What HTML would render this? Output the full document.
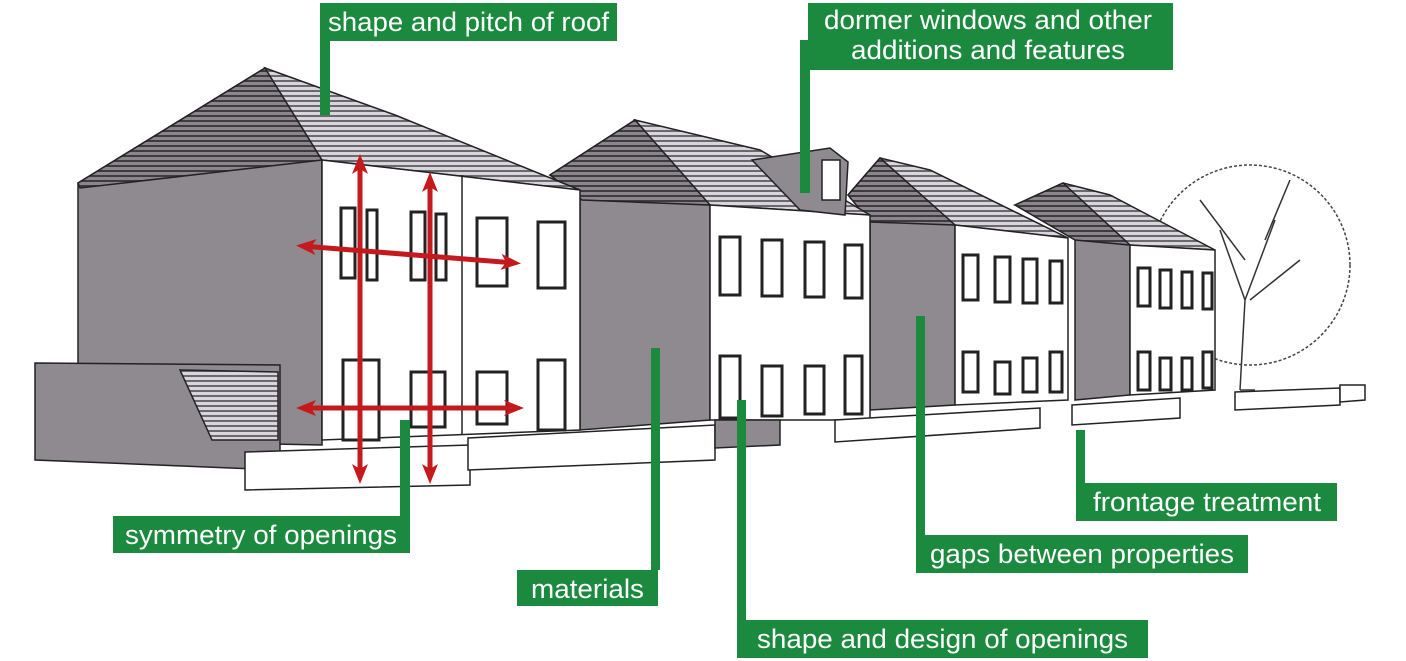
<!DOCTYPE html>
<html><head><meta charset="utf-8"><style>
html,body{margin:0;padding:0;background:#fff;}
svg{display:block}
text{font-family:"Liberation Sans",sans-serif;fill:#fff;font-size:26.5px}
</style></head><body>
<svg width="1406" height="661" viewBox="0 0 1406 661" xmlns="http://www.w3.org/2000/svg">
<defs>
<pattern id="hatch" width="8" height="5" patternUnits="userSpaceOnUse"><rect width="8" height="5" fill="#d8d6da"/><rect y="0" width="8" height="2" fill="#6c6870"/></pattern>
<pattern id="hatchd" width="8" height="5" patternUnits="userSpaceOnUse"><rect width="8" height="5" fill="#8a868c"/><rect y="0" width="8" height="2" fill="#3e3a40"/></pattern>
<marker id="ah" markerUnits="userSpaceOnUse" markerWidth="20" markerHeight="16" refX="14" refY="8" orient="auto-start-reverse"><path d="M0,0 L20,8 L0,16 L5,8 Z" fill="#c41a1e"/></marker>
</defs>
<g stroke="#222" stroke-width="1.5">
<circle cx="1250" cy="265" r="100" fill="#fff" stroke="#444" stroke-dasharray="3 2"/>
<path d="M1240 390 L1245 300 L1220 230 M1245 300 L1275 220 M1250 300 L1300 260 M1245 260 L1200 200 M1265 240 L1290 180 M1240 390 L1255 390" fill="none" stroke="#333"/>
<polygon points="1015,205 1063,183 1130,245 1130,395 1075,400 1075,222" fill="#8e8a90"/>
<polygon points="1063,183 1110,195 1215,250 1130,245" fill="url(#hatch)"/>
<polygon points="1015,205 1063,183 1130,245 1075,240" fill="url(#hatchd)"/>
<polygon points="1130,245 1215,250 1215,390 1130,395" fill="#fff"/>
<polygon points="848,195 880,158 955,225 955,405 870,410 870,205" fill="#8e8a90"/>
<polygon points="880,158 930,170 1068,238 955,225" fill="url(#hatch)"/>
<polygon points="848,195 880,158 955,225 870,222" fill="url(#hatchd)"/>
<polygon points="955,225 1068,238 1068,400 955,405" fill="#fff"/>
<polygon points="550,175 635,120 710,205 710,420 580,430 580,190" fill="#8e8a90"/>
<polygon points="635,120 760,150 870,215 710,205" fill="url(#hatch)"/>
<polygon points="550,175 635,120 710,205 582,200" fill="url(#hatchd)"/>
<polygon points="710,205 870,215 870,420 710,420" fill="#fff"/>
<polygon points="752,160 830,148 848,162 845,215 800,210" fill="#8e8a90"/>
<rect x="822" y="160" width="18" height="40" fill="#fff"/>
<polygon points="78,183 265,68 322,160 322,445 78,440" fill="#8e8a90"/>
<polygon points="78,183 265,68 322,160 80,188" fill="url(#hatchd)"/>
<polygon points="265,68 395,115 580,190 322,160" fill="url(#hatch)"/>
<polygon points="322,160 580,190 580,430 322,440" fill="#fff"/>
<line x1="462" y1="175" x2="462" y2="435"/>
<polygon points="35,363 280,365 280,470 35,460" fill="#8e8a90"/>
<polygon points="180,370 278,372 278,440 212,440" fill="url(#hatch)"/>
<polygon points="245,452 470,445 470,485 245,490" fill="#fff"/>
<polygon points="468,438 715,425 715,460 468,470" fill="#fff"/>
<polygon points="715,420 780,420 780,445 715,448" fill="#8e8a90"/>
<polygon points="835,420 1040,408 1040,428 835,442" fill="#fff"/>
<polygon points="1072,405 1180,398 1180,418 1072,425" fill="#fff"/>
<polygon points="1235,392 1340,388 1340,405 1235,410" fill="#fff"/>
<polygon points="1340,385 1365,385 1365,400 1340,402" fill="#fff"/>
</g>
<g fill="#fff" stroke="#222" stroke-width="3">
<rect x="341" y="208" width="14" height="70"/><rect x="367" y="210" width="10" height="70"/>
<rect x="411" y="212" width="14" height="68"/><rect x="436" y="214" width="10" height="66"/>
<rect x="477" y="218" width="30" height="68"/><rect x="538" y="222" width="27" height="66"/>
<rect x="343" y="360" width="36" height="80"/><rect x="411" y="372" width="34" height="55"/>
<rect x="477" y="372" width="30" height="52"/><rect x="538" y="360" width="27" height="70"/>
<rect x="720" y="237" width="20" height="58"/><rect x="762" y="240" width="20" height="56"/><rect x="805" y="242" width="19" height="55"/><rect x="845" y="245" width="17" height="53"/>
<rect x="720" y="356" width="20" height="62"/><rect x="762" y="366" width="20" height="50"/><rect x="805" y="366" width="19" height="48"/><rect x="845" y="356" width="17" height="58"/>
<rect x="963" y="255" width="15" height="45"/><rect x="995" y="257" width="15" height="45"/><rect x="1023" y="259" width="14" height="44"/><rect x="1050" y="261" width="12" height="42"/>
<rect x="963" y="352" width="15" height="40"/><rect x="995" y="362" width="15" height="32"/><rect x="1023" y="358" width="14" height="34"/><rect x="1050" y="352" width="12" height="40"/>
<rect x="1138" y="268" width="12" height="38"/><rect x="1160" y="270" width="11" height="38"/><rect x="1182" y="272" width="10" height="36"/><rect x="1203" y="273" width="9" height="36"/>
<rect x="1138" y="352" width="12" height="38"/><rect x="1160" y="358" width="11" height="32"/><rect x="1182" y="358" width="10" height="32"/><rect x="1203" y="352" width="9" height="36"/>
</g>
<g stroke="#c41a1e" stroke-width="5" marker-start="url(#ah)" marker-end="url(#ah)">
<line x1="360" y1="160" x2="360" y2="478"/>
<line x1="430" y1="178" x2="430" y2="478"/>
<line x1="302" y1="246" x2="515" y2="263"/>
<line x1="302" y1="408" x2="518" y2="408"/>
</g>
<g fill="#1b8a3e">
<rect x="320" y="3" width="297" height="38"/><rect x="320" y="41" width="10" height="74"/>
<rect x="808" y="3" width="365" height="67"/><rect x="800" y="40" width="10" height="153"/>
<rect x="113" y="516" width="297" height="37"/><rect x="400" y="420" width="10" height="96"/>
<rect x="517" y="570" width="141" height="36"/><rect x="651" y="348" width="9" height="222"/>
<rect x="737" y="620" width="411" height="38"/><rect x="737" y="400" width="9" height="220"/>
<rect x="916" y="535" width="332" height="38"/><rect x="916" y="316" width="9" height="219"/>
<rect x="1076" y="483" width="261" height="38"/><rect x="1076" y="430" width="9" height="53"/>
</g>
<text x="328" y="31" textLength="281" lengthAdjust="spacingAndGlyphs">shape and pitch of roof</text>
<text x="824" y="29" textLength="328" lengthAdjust="spacingAndGlyphs">dormer windows and other</text>
<text x="851" y="59" textLength="274" lengthAdjust="spacingAndGlyphs">additions and features</text>
<text x="125" y="544" textLength="272" lengthAdjust="spacingAndGlyphs">symmetry of openings</text>
<text x="531" y="598" textLength="113" lengthAdjust="spacingAndGlyphs">materials</text>
<text x="757" y="648" textLength="371" lengthAdjust="spacingAndGlyphs">shape and design of openings</text>
<text x="930" y="563" textLength="304" lengthAdjust="spacingAndGlyphs">gaps between properties</text>
<text x="1093" y="511" textLength="228" lengthAdjust="spacingAndGlyphs">frontage treatment</text>
</svg>
</body></html>
